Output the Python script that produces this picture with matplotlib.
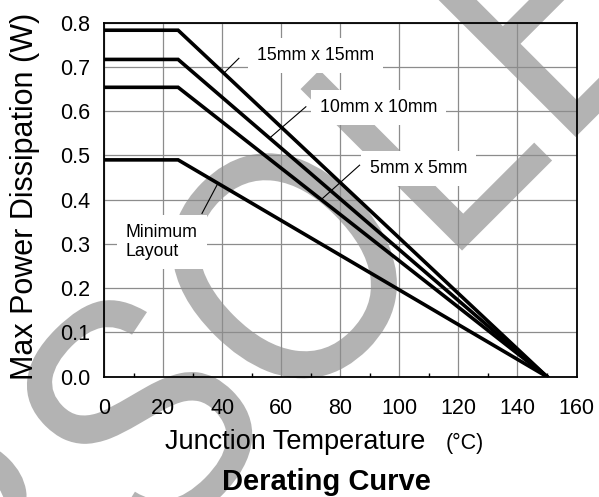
"""Derating curve chart with OBSOLETE watermark."""
import matplotlib

matplotlib.use("Agg")
import matplotlib.pyplot as plt
import numpy as np
from matplotlib.font_manager import FontProperties
from matplotlib.patches import PathPatch
from matplotlib.textpath import TextPath
from matplotlib.transforms import Affine2D

plt.rcParams["font.family"] = ["Liberation Sans", "DejaVu Sans"]

# Data
temp_c = [0, 25, 150]
series_names = ["15mm x 15mm", "10mm x 10mm", "5mm x 5mm", "Minimum\nLayout"]
max_power_w = [0.783, 0.717, 0.654, 0.49]

xticks = [0, 20, 40, 60, 80, 100, 120, 140, 160]
yticks = [0.0, 0.1, 0.2, 0.3, 0.4, 0.5, 0.6, 0.7, 0.8]

# label text positions (data coords) and leader lines
label_x = [71.7, 92.9, 106.5, 7.35]
label_y = [0.7157, 0.598, 0.4603, 0.304]
leader_x0 = [40.5, 56.0, 73.5, 38.5]
leader_x1 = [45.6, 68.3, 86.5, 33.1]
leader_y1 = [0.7195, 0.610, 0.478, 0.369]

W, H, DPI = 599, 497, 100
GRID = "#8c8c8c"
WATERMARK = "#b3b3b3"

fig = plt.figure(figsize=(W / DPI, H / DPI), dpi=DPI)
fig.patch.set_facecolor("white")
ax = fig.add_axes([104.3 / W, 1 - 376.7 / H, 472.2 / W, 354 / H])
ax.patch.set_visible(False)

# watermark behind the axes: condensed text turned 45 degrees
wm_size = 332
wm_fp = FontProperties(family="Liberation Sans")
wm_path = TextPath((0, 0), "OBSOLETE", size=wm_size, prop=wm_fp)
ext_prefix = TextPath((0, 0), "OBSO", size=wm_size, prop=wm_fp).get_extents()
ext_o = TextPath((0, 0), "O", size=wm_size, prop=wm_fp).get_extents()
o_cx = ext_prefix.x1 - ext_o.width / 2
o_cy = (ext_o.y0 + ext_o.y1) / 2
wm_tr = (
    Affine2D()
    .translate(-o_cx, -o_cy)
    .scale(0.87, 1)
    .rotate_deg(45)
    .translate(285, H - 266)
    .scale(1 / DPI)
    + fig.dpi_scale_trans
)
fig.add_artist(PathPatch(wm_path, transform=wm_tr, fc=WATERMARK, ec="none", zorder=-1))

ax.set_axisbelow(True)
ax.grid(True, which="major", color=GRID, lw=0.9)

for name, p, tx, ty, x0, x1, y1 in zip(
    series_names, max_power_w, label_x, label_y, leader_x0, leader_x1, leader_y1
):
    power = [p, p, 0.0]
    ax.plot(temp_c, power, color="black", lw=2.6, solid_joinstyle="miter", zorder=3)
    y0 = np.interp(x0, temp_c, power)
    ax.plot([x0, x1], [y0, y1], color="black", lw=0.8, zorder=3)
    multi = "\n" in name
    ax.text(
        tx,
        ty,
        name,
        fontsize=12.8,
        ha="left" if multi else "center",
        va="center" if multi else "baseline",
        zorder=4,
        bbox=dict(boxstyle="square,pad=0.5", fc="white", ec="none"),
    )

ax.set_xlim(0, 160)
ax.set_ylim(0, 0.8)
ax.set_xticks(xticks)
ax.set_xticklabels([str(v) for v in xticks])
ax.set_yticks(yticks)
ax.set_yticklabels([f"{v:.1f}" for v in yticks])
ax.set_xticks(np.arange(10, 160, 20), minor=True)
ax.tick_params(axis="both", which="major", length=0, labelsize=15.5)
ax.tick_params(axis="x", which="major", pad=15)
ax.tick_params(axis="y", which="major", pad=10)
ax.tick_params(axis="x", which="minor", direction="in", length=3, width=1, color="black")
for sp in ax.spines.values():
    sp.set_linewidth(1.3)
    sp.set_color("black")

fig.text(25 / W, 1 - 196 / H, "Max Power Dissipation (W)", rotation=90,
         ha="center", va="center", fontsize=22)
fig.text(165 / W, 1 - 449 / H, "Junction Temperature", ha="left",
         va="baseline", fontsize=19.5)
fig.text(445.5 / W, 1 - 449 / H, "(°C)", ha="left", va="baseline", fontsize=15.5)
fig.text(326 / W, 1 - 490 / H, "Derating Curve", ha="center", va="baseline",
         fontsize=21, fontweight="bold")

fig.savefig("out.png", dpi=DPI)
